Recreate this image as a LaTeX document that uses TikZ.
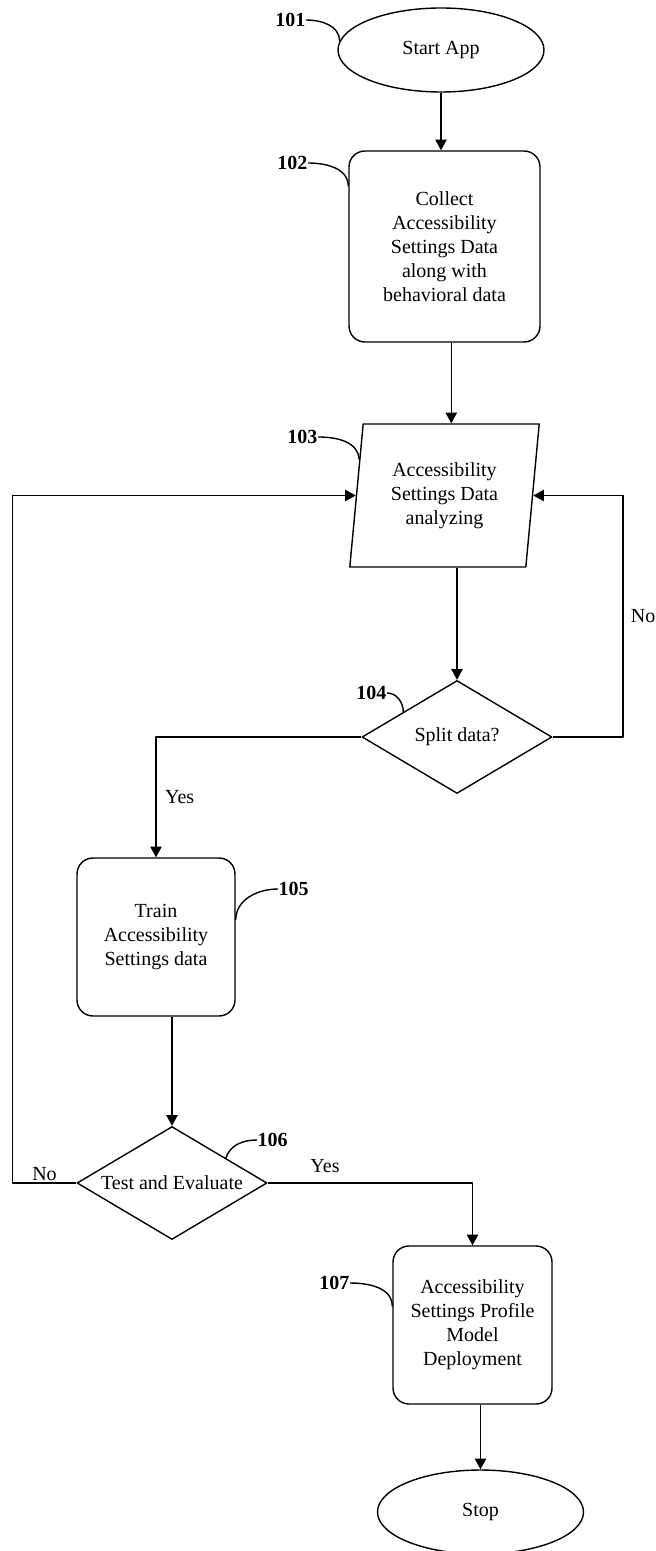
\documentclass[tikz,border=0pt]{standalone}
\usepackage{fontspec}
\setmainfont{Liberation Serif}
\usepackage{tikz}
\usetikzlibrary{arrows.meta,shapes.geometric}
\tikzset{
  fc diagram/.style={font=\fontsize{15}{18}\selectfont, line width=1.05pt,
    line join=round},
  fc terminal/.style={draw, ellipse, minimum width=154.5pt,
    minimum height=63pt, inner sep=0pt},
  fc box/.style={draw, rectangle, rounded corners=12pt, align=center,
    inner sep=2pt},
  fc io/.style={draw, trapezium, trapezium left angle=82.4,
    trapezium right angle=97.6, trapezium stretches=true,
    minimum width=143.25pt, minimum height=107.25pt, align=center,
    inner sep=0pt},
  fc decision/.style={draw, diamond, aspect=1.68, minimum width=142.5pt,
    minimum height=84.75pt, inner sep=0pt},
  fc arrow/.style={-{Triangle[length=8pt,width=8.5pt]}},
  fc lead/.style={line width=1.05pt},
  fc ref/.style={font=\fontsize{15}{18}\selectfont\bfseries, inner sep=0pt}
}

\begin{document}
\begin{tikzpicture}[fc diagram, x=0.75pt, y=-0.75pt]
\useasboundingbox (0,0) rectangle (656,1551);
% steps
\node[fc terminal] (start) at (441,50) {Start App};
\node[fc box, minimum width=143.25pt, minimum height=143.25pt] (collect) at (444.5,246.5) {Collect\\Accessibility\\Settings Data\\along with\\behavioral data};
\node[fc io] (analyse) at (444.5,495.5) {Accessibility\\Settings Data\\analyzing};
\node[fc decision] (split) at (457,737) {Split data?};
\node[fc box, minimum width=118.5pt, minimum height=118.5pt] (train) at (156,937) {Train\\Accessibility\\Settings data};
\node[fc decision] (test) at (172,1183) {Test and Evaluate};
\node[fc box, minimum width=119.25pt, minimum height=118.5pt] (deploy) at (472.5,1325) {Accessibility\\Settings Profile\\Model\\Deployment};
\node[fc terminal] (stop) at (480.5,1512) {Stop};
% reference numerals
\node[fc ref, anchor=east] (r101) at (306,20) {101};
\node[fc ref, anchor=east] (r102) at (308,163) {102};
\node[fc ref, anchor=east] (r103) at (318,437) {103};
\node[fc ref, anchor=east] (r104) at (387,693) {104};
\node[fc ref, anchor=west] (r105) at (278,889) {105};
\node[fc ref, anchor=west] (r106) at (257,1140) {106};
\node[fc ref, anchor=east] (r107) at (350,1283) {107};
\draw[fc lead] (r101.east) to[out=0,in=90] (start.175);
\draw[fc lead] (r102.east) to[out=0,in=90] (collect.148);
\draw[fc lead] (r103.east) to[out=0,in=95] (analyse.157);
\draw[fc lead] (r104.east) to[out=0,in=90] (split.155);
\draw[fc lead] (r105.west) to[out=180,in=90] (train.12);
\draw[fc lead] (r106.west) to[out=180,in=70] (test.25);
\draw[fc lead] (r107.east) to[out=0,in=90] (deploy.167);
% flow
\coordinate (rloop) at (623,737);
\coordinate (lloop) at (12.7,1183);
\draw[fc arrow] (start.south) -- (start.south |- collect.north);
\draw[fc arrow] (analyse.top side |- collect.south) -- (analyse.top side);
\draw[fc arrow] (split.north |- analyse.bottom side) -- (split.north);
\draw[fc arrow] (split.west) -| node[pos=0.75,right=3pt] {Yes} (train.north);
\draw[fc arrow] (split.east) -- (rloop) |- node[pos=0.25,right=2pt] {No} (analyse.right side);
\draw[fc arrow] (test.north |- train.south) -- (test.north);
\draw[fc arrow] (test.east) -| node[pos=0.14,above=4pt] {Yes} (deploy.north);
\draw[fc arrow] (test.west) -- node[above,inner sep=1pt] {No} (lloop) |- (analyse.left side);
\draw[fc arrow] (stop.north |- deploy.south) -- (stop.north);
\end{tikzpicture}
\end{document}
